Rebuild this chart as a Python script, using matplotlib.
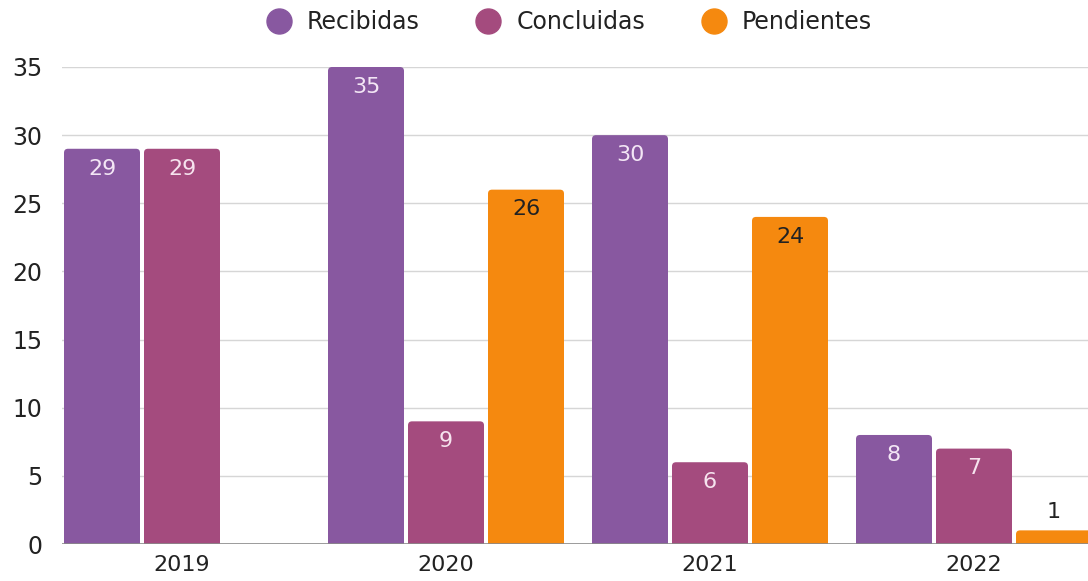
import matplotlib
matplotlib.use("Agg")
import matplotlib.pyplot as plt
import numpy as np
from matplotlib.lines import Line2D
from matplotlib.patches import FancyBboxPatch

years = ["2019", "2020", "2021", "2022"]
series_names = ["Recibidas", "Concluidas", "Pendientes"]
recibidas = [29, 35, 30, 8]
concluidas = [29, 9, 6, 7]
pendientes = [0, 26, 24, 1]

colors = ["#8858A0", "#A44B7E", "#F5890F"]
label_colors = ["#F3E6F5", "#F6E3EE", "#222222"]

plt.rcParams['font.family'] = ['DejaVu Sans']

fig = plt.figure(figsize=(10.88, 5.81), dpi=100)
ax = fig.add_axes([62/1088, 37/581, 1 - 62/1088, (544-67)/581])

x = np.arange(len(years))
step = 80/264
width = 76/264
px_x = 1/264
px_y = 35/477
r = 4 * px_x
aspect = px_y / px_x
all_vals = [recibidas, concluidas, pendientes]
for i, vals in enumerate(all_vals):
    pos = x + (i - 1) * step
    for xp, v in zip(pos, vals):
        if v <= 0:
            continue
        bottom = -6 * px_y
        patch = FancyBboxPatch((xp - width/2, bottom), width, v - bottom,
                               boxstyle=f"round,pad=0,rounding_size={r}",
                               mutation_aspect=aspect,
                               facecolor=colors[i], edgecolor='none', zorder=3)
        ax.add_patch(patch)
        if v >= 3:
            ax.text(xp, v - 1.45, str(v), ha='center', va='center', fontsize=16,
                    color=label_colors[i], zorder=4)
        else:
            ax.text(xp, v + 1.35, str(v), ha='center', va='center', fontsize=16,
                    color="#222222", zorder=4, clip_on=False)

ax.set_xlim(-120/264, 3 + 114/264)
ax.set_ylim(0, 35)
ax.set_yticks(range(0, 36, 5))
ax.set_xticks(x)
ax.set_xticklabels(years)
ax.tick_params(axis='y', length=0, labelsize=17, colors="#222222", pad=14)
ax.tick_params(axis='x', length=0, labelsize=16, colors="#222222", pad=8)
for t in range(5, 36, 5):
    ax.axhline(t, color="#d6d6d6", lw=1, zorder=1)
ax.axhline(0, color="#8a8a8a", lw=1.2, zorder=5)
for s in ax.spines.values():
    s.set_visible(False)

handles = [Line2D([0], [0], marker='o', color='none', markerfacecolor=c, markeredgecolor=c,
                  markersize=18) for c in colors]
fig.legend(handles, series_names, loc='center', bbox_to_anchor=(0.518, 1 - 22/581), ncol=3,
           frameon=False, fontsize=17, handletextpad=0.2, columnspacing=1.9,
           labelcolor="#222222")

fig.savefig("out.png", dpi=100, facecolor="white")
